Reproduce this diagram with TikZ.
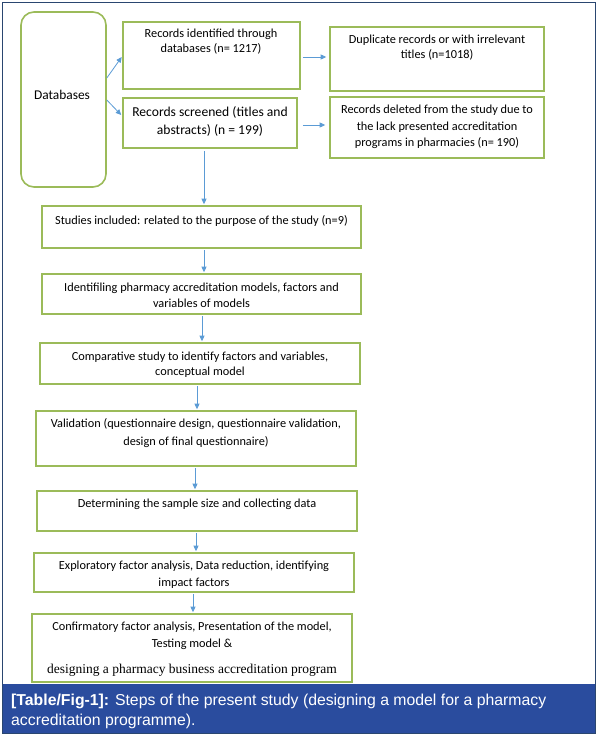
\documentclass[tikz,border=0pt]{standalone}
\usepackage{fontspec}
\setmainfont{Carlito}
\newfontfamily\serifface{Liberation Serif}
\newfontfamily\capface{Liberation Sans}
\usetikzlibrary{arrows.meta,calc}
\definecolor{boxgreen}{HTML}{9BBB59}
\definecolor{arrowblue}{HTML}{5B9BD5}
\definecolor{bandblue}{HTML}{2A4C9E}
\definecolor{framenavy}{HTML}{2A4670}
\begin{document}
\begin{tikzpicture}[x=1pt,y=-1pt,
  stepbox/.style={draw=boxgreen,line width=1.6pt,inner sep=0pt},
  txt/.style={align=center,inner sep=0pt,font=\fontsize{12.3}{15.5}\selectfont},
  bigtxt/.style={align=center,inner sep=0pt,font=\fontsize{13.6}{18}\selectfont},
  arr/.style={draw=arrowblue,line width=0.8pt,-{Triangle[length=5.5pt,width=5pt]}},
  captxt/.style={anchor=north west,align=left,inner sep=0pt,text=white,font=\capface\fontsize{15.8}{19.5}\selectfont}]
\useasboundingbox (0,0) rectangle (598,736);
% caption band and frame
\fill[bandblue] (3,684) rectangle (595,733.5);
\draw[framenavy,line width=1.1pt] (2.5,2.5) rectangle (595.5,733.5);
% boxes
\node[stepbox,rounded corners=13pt,minimum width=85pt,minimum height=175pt] (db) at (63.5,99.5) {};
\node[txt,font=\fontsize{13.4}{16}\selectfont] (dbt) at (62,95) {Databases};
\node[stepbox,minimum width=177pt,minimum height=67pt] (b1) at (211.5,55.5) {};
\node[txt] (b1t) at (211,41.5) {Records identified through\\databases (n= 1217)};
\node[stepbox,minimum width=214pt,minimum height=64pt] (b2) at (437,59) {};
\node[txt] (b2t) at (437,47.5) {Duplicate records or with irrelevant\\titles (n=1018)};
\node[stepbox,minimum width=174pt,minimum height=50pt] (b3) at (210,123) {};
\node[bigtxt] (b3t) at (210,121.5) {Records screened (titles and\\abstracts) (n = 199)};
\node[stepbox,minimum width=214pt,minimum height=61pt] (b4) at (437,127.5) {};
\node[txt,font=\fontsize{12.3}{16.5}\selectfont] (b4t) at (437,127) {Records deleted from the study due to\\the lack presented accreditation\\programs in pharmacies (n= 190)};
\node[stepbox,minimum width=319pt,minimum height=42pt] (b5) at (201.5,227) {};
\node[txt] (b5t) at (201.5,221) {Studies included: related to the purpose of the study (n=9)};
\node[stepbox,minimum width=319pt,minimum height=40pt] (b6) at (201.5,294) {};
\node[txt] (b6t) at (201.5,295.5) {Identifiling pharmacy accreditation models, factors and\\variables of models};
\node[stepbox,minimum width=320pt,minimum height=41pt] (b7) at (200,363.5) {};
\node[txt] (b7t) at (200,364.5) {Comparative study to identify factors and variables,\\conceptual model};
\node[stepbox,minimum width=320pt,minimum height=55pt] (b8) at (196,438.5) {};
\node[txt,font=\fontsize{12.3}{18}\selectfont] (b8t) at (196,433) {Validation (questionnaire design, questionnaire validation,\\design of final questionnaire)};
\node[stepbox,minimum width=320pt,minimum height=40pt] (b9) at (197,511) {};
\node[txt] (b9t) at (197,504) {Determining the sample size and collecting data};
\node[stepbox,minimum width=320pt,minimum height=39pt] (b10) at (194,572.5) {};
\node[txt,font=\fontsize{12.3}{17}\selectfont] (b10t) at (194,574.5) {Exploratory factor analysis, Data reduction, identifying\\impact factors};
\node[stepbox,minimum width=320pt,minimum height=68pt] (b11) at (192,648) {};
\node[txt,font=\fontsize{12.3}{17}\selectfont] (b11t) at (192,635.5) {Confirmatory factor analysis, Presentation of the model,\\Testing model \&};
\node[txt,font=\serifface\fontsize{13.5}{15}\selectfont] (b11u) at (192,670.5) {designing a pharmacy business accreditation program};
% caption
\node[captxt] (cap) at (11,694) {\textbf{[Table/Fig-1]:} Steps of the present study (designing a model for a pharmacy\\accreditation programme).};
% connectors
\coordinate (xa) at (204,0);
\coordinate (xb) at (202,0);
\coordinate (xc) at (197,0);
\coordinate (xd) at (195,0);
\coordinate (xe) at (196,0);
\coordinate (xf) at (193,0);
\draw[arr] ([yshift=21.5pt]db.east) -- ([xshift=-0.5pt,yshift=-1.5pt]b1.west);
\draw[arr] ([yshift=-0.5pt]db.east) -- ([xshift=-1pt,yshift=8pt]b3.west);
\draw[arr] ([xshift=2pt,yshift=-1.5pt]b1.east) -- ([xshift=-3pt,yshift=2pt]b2.west);
\draw[arr] ([xshift=5pt,yshift=-2pt]b3.east) -- ([xshift=-4pt,yshift=2.5pt]b4.west);
\draw[arr] ([yshift=-2pt]b3.south -| xa) -- ([yshift=1pt]b5.north -| xa);
\draw[arr] ([yshift=-1.5pt]b5.south -| xa) -- ([yshift=1pt]b6.north -| xa);
\draw[arr] ([yshift=-1.5pt]b6.south -| xb) -- ([yshift=1pt]b7.north -| xb);
\draw[arr] ([yshift=-1.5pt]b7.south -| xc) -- ([yshift=1pt]b8.north -| xc);
\draw[arr] ([yshift=-1.5pt]b8.south -| xd) -- ([yshift=1pt]b9.north -| xd);
\draw[arr] ([yshift=-1.5pt]b9.south -| xe) -- ([yshift=1pt]b10.north -| xe);
\draw[arr] ([yshift=-1.5pt]b10.south -| xf) -- ([yshift=1pt]b11.north -| xf);
\end{tikzpicture}
\end{document}
